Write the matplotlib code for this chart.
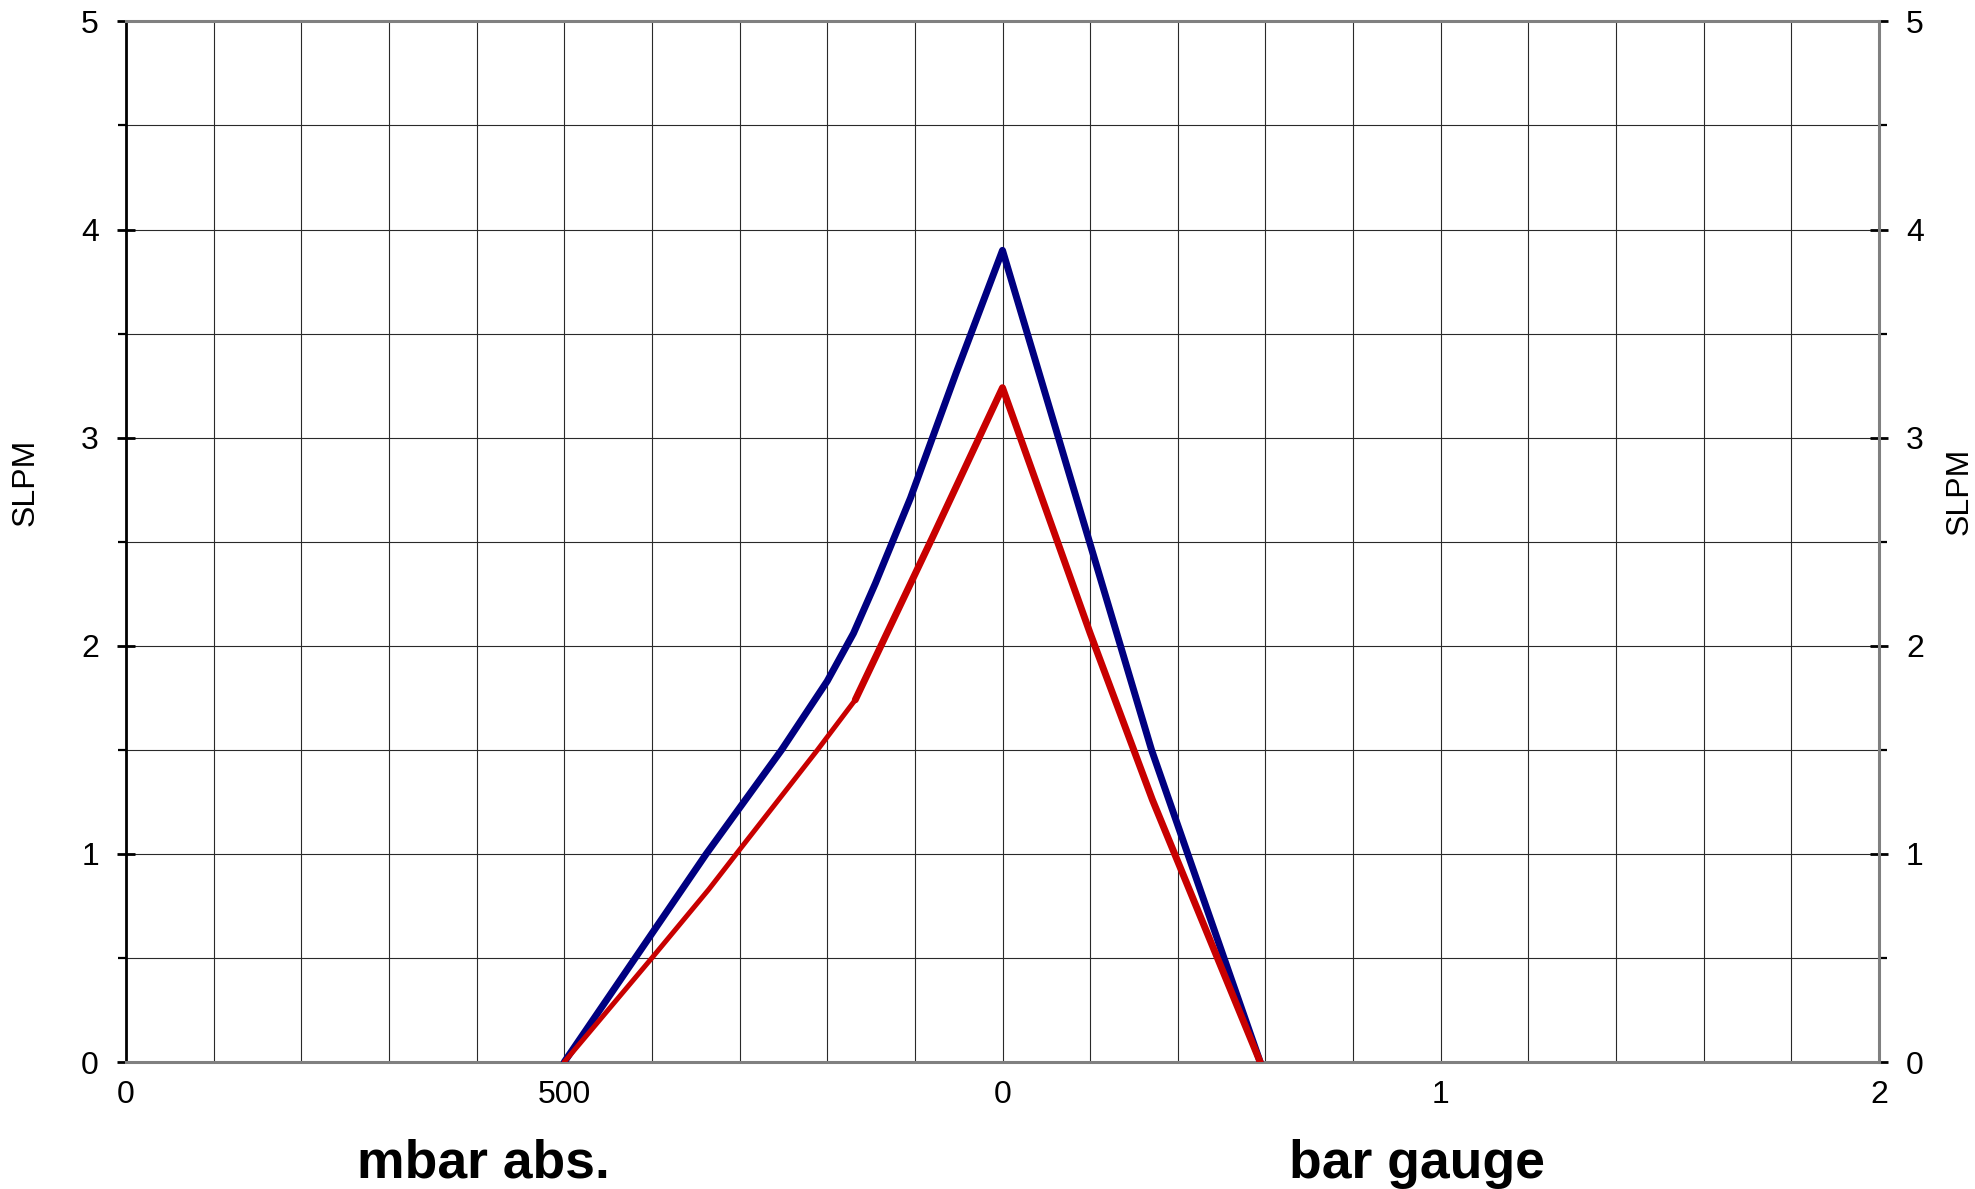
import matplotlib
matplotlib.use("Agg")
import matplotlib.pyplot as plt

plt.rcParams['font.family'] = ['Liberation Sans', 'DejaVu Sans']

# x is the chart's position scale: 0-10 = 0-1000 mbar abs., 10-20 = 0-2 bar gauge
blue_x = [5.0, 5.81, 6.62, 7.48, 8.0, 8.3, 8.55, 8.95, 9.47, 10.0, 11.7, 12.94]
blue_y = [0.0, 0.50, 1.00, 1.50, 1.83, 2.06, 2.30, 2.71, 3.31, 3.90, 1.50, 0.0]

red_thin_x = [5.0, 6.0, 6.65, 7.0, 7.89, 8.32]
red_thin_y = [0.0, 0.50, 0.83, 1.02, 1.50, 1.74]
red_thick_x = [8.32, 9.2, 10.0, 11.0, 11.71, 12.94]
red_thick_y = [1.74, 2.52, 3.24, 2.06, 1.26, 0.0]

x_tick_pos = [0, 5, 10, 15, 20]
x_tick_labels = ['0', '500', '0', '1', '2']
y_ticks = [0, 1, 2, 3, 4, 5]

fig = plt.figure(figsize=(19.75, 11.89), dpi=100)
ax = fig.add_axes([0.0638, 0.1068, 0.8876, 0.8752])

ax.plot(blue_x, blue_y, color='#000080', linewidth=5.0, solid_joinstyle='round',
        solid_capstyle='round', zorder=3)
ax.plot(red_thin_x, red_thin_y, color='#C80000', linewidth=3.6, solid_joinstyle='round',
        solid_capstyle='round', zorder=4)
ax.plot(red_thick_x, red_thick_y, color='#C80000', linewidth=5.0, solid_joinstyle='round',
        solid_capstyle='round', zorder=4)

ax.set_xlim(0, 20)
ax.set_ylim(0, 5)
ax.set_xticks(x_tick_pos, x_tick_labels)
ax.set_xticks(range(21), minor=True)
ax.set_yticks(y_ticks)
ax.set_yticks([v / 2 for v in range(11)], minor=True)

ax.grid(True, which='both', color='#2a2a2a', linewidth=0.8)
ax.set_axisbelow(True)

ax.tick_params(axis='x', which='both', length=0, labelsize=23, pad=13)
ax.tick_params(axis='y', which='major', direction='inout', length=13, width=2.0,
               left=True, right=True, labelleft=True, labelright=True,
               labelsize=23, pad=13)
ax.tick_params(axis='y', which='minor', direction='out', length=6, width=1.6,
               left=True, right=True)

ax.spines['left'].set_color('black')
ax.spines['left'].set_linewidth(2.0)
for side in ['top', 'bottom', 'right']:
    ax.spines[side].set_color('#808080')
    ax.spines[side].set_linewidth(2.2)

fig.text(0.0127, 0.594, 'SLPM', rotation=90, ha='center', va='center', fontsize=23)
fig.text(0.992, 0.587, 'SLPM', rotation=90, ha='center', va='center', fontsize=23)

fig.text(0.2446, 0.0093, 'mbar abs.', ha='center', va='baseline',
         fontsize=38.5, fontweight='bold')
fig.text(0.7175, 0.0093, 'bar gauge', ha='center', va='baseline',
         fontsize=38.5, fontweight='bold')

fig.savefig('out.png', dpi=100)
